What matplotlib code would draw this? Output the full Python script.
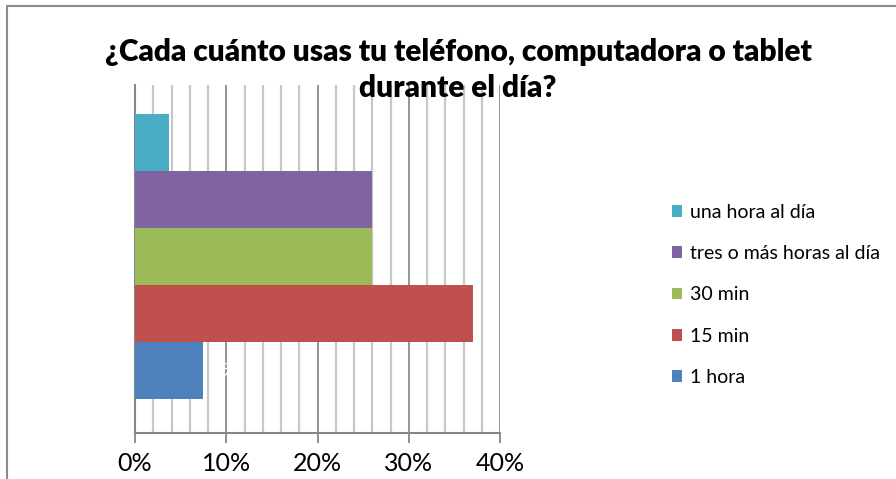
import matplotlib
matplotlib.use("Agg")
import matplotlib.pyplot as plt
from matplotlib.patches import Rectangle

series = ["1 hora", "15 min", "30 min", "tres o más horas al día", "una hora al día"]
values = [2/27, 10/27, 7/27, 7/27, 1/27]
colors = ["#4F81BD", "#C0504D", "#9BBB59", "#8064A2", "#4BACC6"]
xticks = [0, 0.1, 0.2, 0.3, 0.4]
xticklabels = ["0%", "10%", "20%", "30%", "40%"]
title = "¿Cada cuánto usas tu teléfono, computadora o tablet\ndurante el día?"

plt.rcParams['font.family'] = ['Lato', 'DejaVu Sans']

fig = plt.figure(figsize=(8.96, 4.79), dpi=100)
W, H = 896, 479
x0, x1 = 135, 500
y0, y1 = 85, 433
ax = fig.add_axes([x0 / W, 1 - y1 / H, (x1 - x0) / W, (y1 - y0) / H])

bar_h = 57 / 348 * 1.0
ax.set_ylim(0, 1)
ax.set_xlim(0, 0.4)
center = 1 - (256.5 - y0) / (y1 - y0)
n = len(values)
for i, (s, v, c) in enumerate(zip(series, values, colors)):
    yc = center + (i - (n - 1) / 2) * bar_h
    ax.barh(yc, v, height=bar_h, color=c, label=s, zorder=3)
    if i == 0:
        ax.text(v + 0.01, yc, f"{round(v*100)}%", color="white", va="center",
                ha="left", fontsize=13, zorder=4)

# gridlines
for k in range(1, 21):
    xv = k * 0.02
    major = (k % 5 == 0)
    ax.axvline(xv, color="#8C8C8C" if major else "#C8C8C8", lw=1.3 if major else 1.6, zorder=1)

for sp in ["top", "right"]:
    ax.spines[sp].set_visible(False)
ax.spines["left"].set_color("#868686")
ax.spines["left"].set_linewidth(1.5)
ax.spines["bottom"].set_color("#868686")
ax.spines["bottom"].set_linewidth(1.5)
ax.set_yticks([])
ax.set_xticks(xticks)
ax.set_xticklabels(xticklabels, fontsize=18)
ax.tick_params(axis="x", length=7, width=1.3, color="#868686", pad=7)

handles, labels = ax.get_legend_handles_labels()
leg = fig.legend(handles[::-1], labels[::-1], loc="upper left",
                 bbox_to_anchor=(664 / W, 1 - 196 / H), frameon=False,
                 fontsize=14, handlelength=0.55, handleheight=0.55,
                 handletextpad=0.4, labelspacing=1.25, borderaxespad=0)

fig.text(458 / W, 1 - 70 / H, title, ha="center", va="center", fontsize=21.5,
         fontweight="heavy", linespacing=1.35)

fig.patches.append(Rectangle((7 / W, -0.1), 1.2, 1 - 6 / H + 0.1, transform=fig.transFigure,
                             fill=False, edgecolor="#8C8C8C", lw=1.5))

fig.savefig("out.png", dpi=100)
